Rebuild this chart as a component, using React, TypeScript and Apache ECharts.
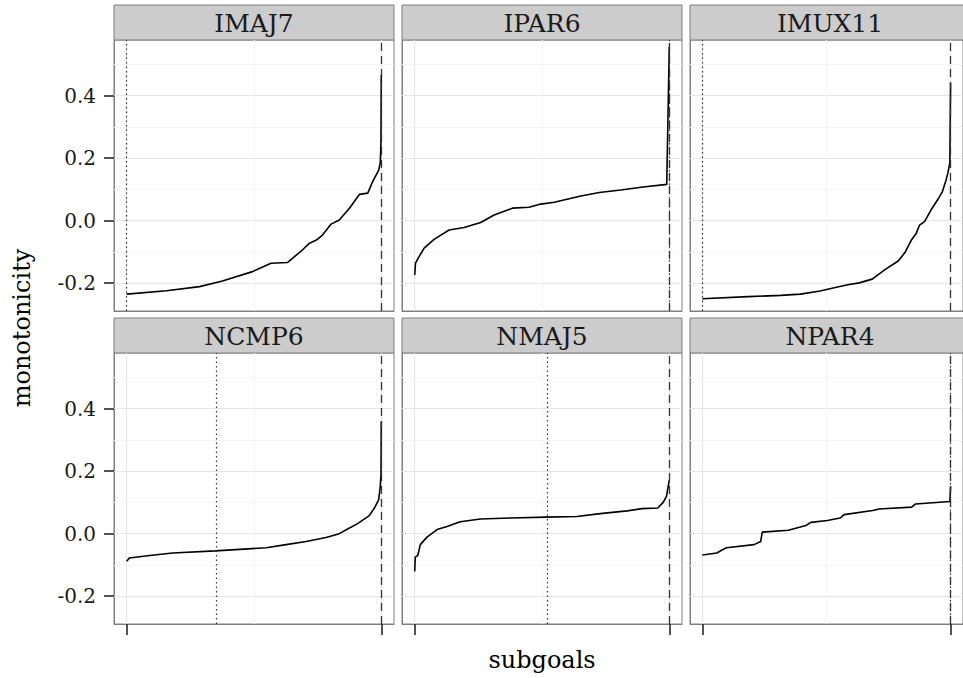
import React, { useEffect, useRef } from 'react';
import * as echarts from 'echarts';

const panelNames = ['IMAJ7', 'IPAR6', 'IMUX11', 'NCMP6', 'NMAJ5', 'NPAR4'];
const yTicks = [-0.2, 0, 0.2, 0.4];
const yMinor = [-0.1, 0.1, 0.3, 0.5];
const xTicks = [0, 1];
const xMinor = [0.5];

const imaj7X = [0, 0.156, 0.286, 0.376, 0.494, 0.567, 0.631, 0.69, 0.718, 0.745, 0.769, 0.803, 0.835, 0.875, 0.914, 0.947, 0.966, 0.99, 0.996, 0.9987, 1];
const imaj7Y = [-0.235, -0.224, -0.211, -0.193, -0.163, -0.136, -0.134, -0.094, -0.072, -0.062, -0.046, -0.011, 0.002, 0.04, 0.084, 0.088, 0.125, 0.162, 0.184, 0.248, 0.466];

const ipar6X = [0, 0.003, 0.017, 0.037, 0.076, 0.135, 0.194, 0.259, 0.312, 0.384, 0.449, 0.495, 0.548, 0.594, 0.653, 0.725, 0.81, 0.889, 0.99, 1];
const ipar6Y = [-0.174, -0.136, -0.115, -0.088, -0.06, -0.03, -0.022, -0.006, 0.018, 0.04, 0.043, 0.053, 0.059, 0.068, 0.079, 0.09, 0.098, 0.107, 0.116, 0.557];

const imux11X = [0, 0.184, 0.316, 0.395, 0.474, 0.54, 0.586, 0.632, 0.684, 0.737, 0.789, 0.816, 0.842, 0.862, 0.875, 0.895, 0.921, 0.947, 0.967, 0.98, 0.989, 0.997, 1];
const imux11Y = [-0.25, -0.243, -0.239, -0.235, -0.225, -0.213, -0.205, -0.199, -0.187, -0.156, -0.129, -0.102, -0.062, -0.04, -0.014, -0.003, 0.034, 0.066, 0.093, 0.125, 0.152, 0.186, 0.44];

const ncmp6X = [0, 0.01, 0.09, 0.18, 0.348, 0.548, 0.626, 0.705, 0.783, 0.835, 0.868, 0.907, 0.953, 0.973, 0.99, 0.996, 0.999, 1];
const ncmp6Y = [-0.088, -0.078, -0.07, -0.062, -0.055, -0.045, -0.035, -0.025, -0.012, 0, 0.015, 0.032, 0.058, 0.082, 0.109, 0.151, 0.194, 0.359];

const nmaj5X = [0, 0.002, 0.012, 0.022, 0.048, 0.088, 0.127, 0.179, 0.258, 0.376, 0.516, 0.637, 0.729, 0.834, 0.893, 0.955, 0.976, 0.989, 1];
const nmaj5Y = [-0.121, -0.075, -0.07, -0.035, -0.011, 0.013, 0.023, 0.038, 0.047, 0.05, 0.053, 0.055, 0.064, 0.073, 0.08, 0.082, 0.1, 0.119, 0.171];

const npar4X = [0, 0.058, 0.077, 0.097, 0.208, 0.235, 0.241, 0.346, 0.417, 0.437, 0.503, 0.555, 0.571, 0.686, 0.712, 0.843, 0.859, 0.997, 1];
const npar4Y = [-0.068, -0.062, -0.053, -0.045, -0.035, -0.025, 0.005, 0.011, 0.026, 0.036, 0.042, 0.05, 0.061, 0.074, 0.079, 0.085, 0.095, 0.103, 0.151];

const panelX = [imaj7X, ipar6X, imux11X, ncmp6X, nmaj5X, npar4X];
const panelY = [imaj7Y, ipar6Y, imux11Y, ncmp6Y, nmaj5Y, npar4Y];
const dottedPos = [0, 1, 0, 0.348, 0.516, 1];
const dashedPos = [1, 1, 1, 1, 1, 1];

const yMin = -0.289;
const yMax = 0.578;
const xMin = -0.05;
const xMax = 1.05;

const FONT = 'DejaVu Serif';

export default function App() {
  const ref = useRef<HTMLDivElement>(null);
  useEffect(() => {
    document.body.style.margin = '0';
    if (!ref.current) return;
    const chart = echarts.init(ref.current, null, { renderer: 'svg' });
    const lefts = [114, 402, 690];
    const tops = [40, 353];
    const W = 280;
    const H = 271;
    const stripH = 35;
    const grids: any[] = [];
    const xAxes: any[] = [];
    const yAxes: any[] = [];
    const series: any[] = [];
    const graphics: any[] = [];
    panelNames.forEach((name, i) => {
      const col = i % 3;
      const row = Math.floor(i / 3);
      const left = lefts[col];
      const top = tops[row];
      grids.push({
        left, top, width: W, height: H,
        show: true, backgroundColor: '#ffffff', borderColor: '#7f7f7f', borderWidth: 1,
        containLabel: false,
      });
      const bottom = row === 1;
      xAxes.push({
        type: 'value', gridIndex: i, min: xMin, max: xMax, position: 'bottom',
        axisLine: { show: true, onZero: false, lineStyle: { color: '#7f7f7f', width: 1 } },
        splitLine: { show: false },
        axisTick: { show: bottom, inside: false, customValues: xTicks, length: 11, lineStyle: { color: '#1a1a1a', width: 1.5 } },
        axisLabel: { show: false },
        ...(i === 4 ? {
          name: 'subgoals', nameLocation: 'middle', nameGap: 24,
          nameTextStyle: { fontFamily: FONT, fontSize: 24, color: '#000', verticalAlign: 'top' },
        } : {}),
      });
      const leftCol = col === 0;
      yAxes.push({
        type: 'value', gridIndex: i, min: yMin, max: yMax, position: 'left',
        axisLine: { show: true, onZero: false, lineStyle: { color: '#7f7f7f', width: 1 } },
        splitLine: { show: false },
        axisTick: { show: leftCol, inside: false, customValues: yTicks, length: 10, lineStyle: { color: '#1a1a1a', width: 1.5 } },
        axisLabel: {
          show: leftCol, customValues: yTicks, margin: 18,
          formatter: (v: number) => v.toFixed(1),
          fontFamily: FONT, fontSize: 20, color: '#1a1a1a',
        },
      });
      const data = panelX[i].map((x, k) => [x, panelY[i][k]]);
      series.push({
        type: 'line', xAxisIndex: i, yAxisIndex: i, data,
        showSymbol: false, symbol: 'none', silent: true,
        lineStyle: { opacity: 0 },
        markLine: {
          silent: true, symbol: 'none', z: 1, animation: false,
          label: { show: false },
          data: [
            ...yTicks.map((v) => ({ yAxis: v, lineStyle: { color: '#e5e5e5', width: 1.2, type: 'solid' } })),
            ...yMinor.map((v) => ({ yAxis: v, lineStyle: { color: '#f6f6f6', width: 1.2, type: 'solid' } })),
            ...xTicks.map((v) => ({ xAxis: v, lineStyle: { color: '#e5e5e5', width: 1.2, type: 'solid' } })),
            ...xMinor.map((v) => ({ xAxis: v, lineStyle: { color: '#f6f6f6', width: 1.2, type: 'solid' } })),
          ],
        },
      });
      series.push({
        type: 'line', xAxisIndex: i, yAxisIndex: i, data, z: 3,
        showSymbol: false, symbol: 'none', silent: true,
        lineStyle: { color: '#000', width: 1.6 },
        markLine: {
          silent: true, symbol: 'none', z: 4, animation: false,
          label: { show: false },
          data: [
            { xAxis: dashedPos[i], lineStyle: { color: '#333', width: 1.3, type: [8, 5] } },
            { xAxis: dottedPos[i], lineStyle: { color: '#333', width: 1.2, type: [1.5, 3] } },
          ],
        },
      });
      graphics.push({
        type: 'rect', shape: { x: left, y: top - stripH, width: W, height: stripH },
        style: { fill: '#cccccc', stroke: '#7f7f7f', lineWidth: 1 }, silent: true,
      });
      graphics.push({
        type: 'text', x: left + W / 2, y: top - stripH / 2 + 1,
        style: { text: name, fontFamily: FONT, fontSize: 25, fill: '#1a1a1a', align: 'center', verticalAlign: 'middle' },
        silent: true,
      });
    });
    graphics.push({
      type: 'text', x: 22, y: 328, rotation: Math.PI / 2,
      style: { text: 'monotonicity', fontFamily: FONT, fontSize: 24, fill: '#000', align: 'center', verticalAlign: 'middle' },
      silent: true,
    });
    chart.setOption({
      animation: false,
      backgroundColor: '#ffffff',
      grid: grids,
      xAxis: xAxes,
      yAxis: yAxes,
      series,
      graphic: graphics,
    });
    return () => chart.dispose();
  }, []);
  return <div ref={ref} style={{ width: 963, height: 678 }} />;
}
